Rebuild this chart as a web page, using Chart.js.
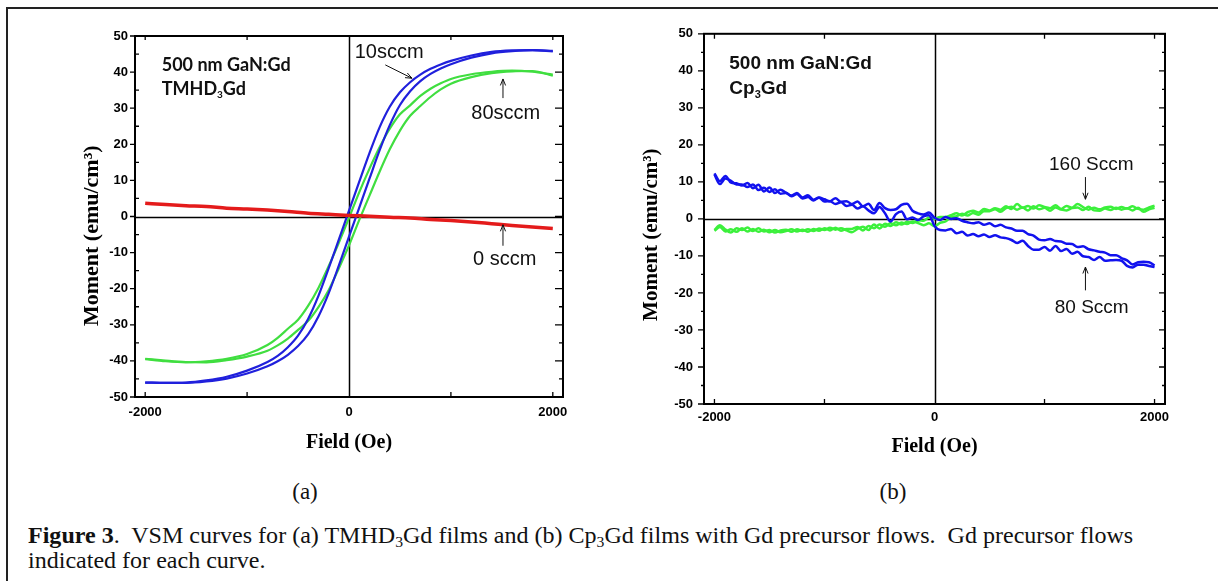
<!DOCTYPE html>
<html><head><meta charset="utf-8">
<script src="https://cdn.jsdelivr.net/npm/chart.js@4.4.1/dist/chart.umd.min.js"></script>
<style>
html,body{margin:0;padding:0;background:#fff;width:1218px;height:581px;overflow:hidden;position:relative;font-family:"Liberation Serif",serif;color:#111;}
#border{position:absolute;left:6px;top:7px;width:1300px;height:700px;border-left:2px solid #222;border-top:2px solid #222;}
#ca{position:absolute;left:40px;top:20px;}
#cb{position:absolute;left:610px;top:15px;}
.lab{position:absolute;font-size:23px;transform:translate(-50%,-50%);white-space:nowrap;}
#cap{position:absolute;left:28px;top:523px;font-size:23px;line-height:25px;white-space:nowrap;transform:scaleX(1.045);transform-origin:0 0;}
#cap sub{font-size:15px;vertical-align:-4px;line-height:0;}
</style>
</head><body>
<div id="border"></div>
<canvas id="ca" width="540" height="450"></canvas>
<canvas id="cb" width="590" height="455"></canvas>
<div class="lab" style="left:305px;top:492px;">(a)</div>
<div class="lab" style="left:893px;top:492px;">(b)</div>
<div id="cap"><b>Figure 3</b>.&nbsp; VSM curves for (a) TMHD<sub>3</sub>Gd films and (b) Cp<sub>3</sub>Gd films with Gd precursor flows.&nbsp; Gd precursor flows<br>indicated for each curve.</div>
<script>
// ---------- data: panel (a) ----------
const fieldDesc = [2000,1800,1600,1400,1200,1000,900,800,700,600,500,400,300,200,100,0,-100,-200,-300,-400,-500,-600,-700,-800,-1000,-1200,-1400,-1600,-1800,-2000];
const fieldAsc  = [-2000,-1800,-1600,-1400,-1200,-1000,-800,-700,-600,-500,-400,-300,-200,-100,0,100,200,300,400,500,600,700,800,900,1000,1200,1400,1600,1800,2000];
const blue10Desc = [45.9,46.1,46.0,45.6,44.6,43.1,42.1,40.9,39.3,37.2,34.4,30.4,24.7,17.5,9.6,1.6,-6.4,-14.4,-22.0,-28.3,-33.0,-36.2,-38.6,-40.3,-42.7,-44.4,-45.4,-46.0,-46.1,-46.0];
const blue10Asc  = [-46.0,-46.1,-46.1,-45.7,-44.9,-43.5,-41.5,-40.1,-38.3,-35.9,-32.6,-27.7,-21.3,-13.6,-5.6,2.4,10.4,18.3,25.3,30.9,34.7,37.5,39.5,41.0,42.2,44.0,45.2,45.8,46.1,45.7];
const green80Desc = [39.3,40.1,40.4,40.1,39.4,38.1,36.9,35.4,33.4,30.8,28.3,24.3,19.2,13.2,6.7,-0.4,-7.3,-13.8,-19.8,-24.7,-28.6,-31.1,-33.6,-35.6,-38.1,-39.4,-40.1,-40.4,-40.1,-39.5];
const green80Asc  = [-39.4,-39.9,-40.3,-40.4,-39.8,-38.8,-37.2,-35.7,-33.8,-31.4,-28.9,-25.1,-20.4,-14.4,-8.0,-1.0,5.7,12.4,18.6,23.8,27.9,30.6,33.1,35.2,36.8,38.6,39.7,40.2,40.3,39.0];
const fieldRed = [-2000,-1800,-1600,-1400,-1200,-1000,-800,-600,-400,-200,0,200,400,600,800,1000,1200,1400,1600,1800,2000];
const red0     = [3.7,3.3,3.0,2.8,2.3,2.1,1.8,1.4,0.9,0.6,0.3,0.1,-0.2,-0.4,-0.8,-1.1,-1.5,-2.0,-2.5,-2.9,-3.3];

// ---------- data: panel (b) ----------
const fieldB = [-2000,-1950,-1900,-1850,-1800,-1750,-1700,-1650,-1600,-1550,-1500,-1450,-1400,-1350,-1300,-1250,-1200,-1150,-1100,-1050,-1000,
  -950,-900,-850,-800,-750,-700,-650,-600,-550,-500,-450,-400,-350,-300,-250,-200,-150,-100,-50,0,
  50,100,150,200,250,300,350,400,450,500,550,600,650,700,750,800,850,900,950,1000,
  1050,1100,1150,1200,1250,1300,1350,1400,1450,1500,1550,1600,1650,1700,1750,1800,1850,1900,1950,2000];
const blue80a = [12.3,10.2,11.6,9.8,9.6,9.0,9.7,8.3,9.2,7.4,8.5,7.0,7.9,7.1,6.3,7.0,5.8,6.4,5.2,5.8,5.3,
  4.8,5.6,4.6,4.8,4.0,4.7,3.4,4.1,2.4,4.3,2.9,2.4,2.6,3.8,4.1,2.2,1.5,1.2,1.7,0.3,
  -0.3,0.5,0.0,0.2,-0.5,-0.9,-1.2,-0.9,-1.6,-1.2,-2.0,-1.6,-2.3,-2.6,-3.2,-3.2,-4.1,-4.5,-5.6,-5.8,
  -5.4,-6.0,-6.1,-6.7,-6.8,-7.6,-7.4,-8.2,-8.5,-8.9,-9.1,-9.8,-9.8,-10.6,-11.2,-12.3,-11.7,-11.6,-11.7,-12.6];
const blue80b = [12.0,9.4,10.9,10.3,9.3,9.3,8.6,9.3,7.8,8.4,7.3,8.0,6.8,7.0,6.1,6.7,5.5,5.9,5.0,5.7,4.7,
  4.8,4.0,4.5,3.5,3.8,2.8,3.4,2.3,1.5,3.2,1.5,-0.7,1.3,2.0,-0.1,0.4,-0.3,0.7,1.0,-1.9,
  -3.0,-3.1,-2.7,-3.9,-3.5,-4.5,-4.1,-4.7,-4.2,-4.9,-4.4,-5.0,-5.2,-5.7,-6.5,-5.9,-7.3,-8.3,-8.3,-7.6,
  -8.6,-7.3,-8.7,-8.1,-9.4,-8.9,-10.1,-10.3,-11.1,-10.3,-11.3,-11.2,-11.1,-11.3,-12.7,-13.1,-12.4,-12.4,-12.7,-13.0];
const green160a = [-3.0,-1.7,-2.9,-3.7,-2.5,-3.0,-2.3,-3.3,-2.5,-3.4,-3.0,-3.7,-3.1,-2.9,-3.5,-2.8,-3.3,-2.8,-3.3,-2.6,-3.0,
  -2.4,-2.9,-2.5,-3.1,-3.6,-2.7,-2.1,-3.0,-1.5,-2.6,-1.3,-1.9,-0.9,-1.5,-0.8,-1.1,-0.4,-0.5,0.4,0.0,
  0.5,0.5,1.0,1.5,0.9,1.8,2.2,1.7,2.7,2.3,2.9,2.5,3.4,2.7,4.0,3.0,3.5,2.8,3.7,3.2,
  2.9,3.7,2.7,3.5,3.0,4.0,3.2,2.5,3.0,2.6,3.1,3.3,2.7,3.2,2.8,3.4,2.7,2.5,3.1,3.6];
const green160b = [-3.2,-2.2,-3.4,-2.8,-3.5,-2.5,-3.4,-2.7,-3.5,-2.9,-3.6,-3.0,-3.6,-3.3,-2.8,-3.4,-2.9,-3.5,-2.7,-3.2,-2.5,
  -3.1,-2.4,-3.2,-2.7,-2.7,-2.2,-3.1,-1.9,-2.5,-1.5,-2.1,-1.2,-1.7,-1.0,-1.4,-0.7,-1.1,-1.7,-1.2,-2.0,
  -1.1,-0.7,0.5,0.7,1.4,0.9,1.6,1.1,2.1,2.1,2.6,1.9,2.9,3.3,2.5,3.1,2.3,3.4,2.6,3.0,
  2.2,3.1,2.5,2.3,2.9,3.1,2.4,3.3,2.3,2.2,2.8,2.4,3.0,2.5,2.9,2.3,3.0,1.9,2.6,3.0];

// ---------- tick labels ----------
const yTickValues = [-50,-40,-30,-20,-10,0,10,20,30,40,50];
const yMinorValues = [-45,-35,-25,-15,-5,5,15,25,35,45];
const xTickValues = [-2000,0,2000];
const xMarkValues = [-2000,-1000,1000,2000];
const yTitle = 'Moment (emu/cm\u00B3)';
const xTitle = 'Field (Oe)';

function pts(xs, ys){ return xs.map((x,i)=>({x:x, y:ys[i]})); }

const framePlugin = {
  id:'frame',
  beforeDatasetsDraw(chart, args, o){
    const {ctx, chartArea:a, scales:{x,y}} = chart;
    ctx.save(); ctx.strokeStyle='#000'; ctx.lineWidth=o.zeroW;
    const x0 = Math.round(x.getPixelForValue(0))+0.5, y0 = Math.round(y.getPixelForValue(0))+0.5;
    ctx.beginPath(); ctx.moveTo(x0,a.top); ctx.lineTo(x0,a.bottom);
    ctx.moveTo(a.left,y0); ctx.lineTo(a.right,y0); ctx.stroke(); ctx.restore();
  },
  afterDatasetsDraw(chart, args, o){
    const {ctx, chartArea:a, scales:{x,y}} = chart;
    ctx.save(); ctx.strokeStyle='#000';
    ctx.lineWidth=o.frameW;
    ctx.strokeRect(a.left, a.top, a.right-a.left, a.bottom-a.top);
    ctx.lineWidth=1.3;
    const t=o.ticks;
    ctx.beginPath();
    yTickValues.forEach(v=>{ const p=y.getPixelForValue(v);
      ctx.moveTo(a.left,p); ctx.lineTo(a.left+t.left[0],p);
      ctx.moveTo(a.right,p); ctx.lineTo(a.right-t.right[0],p); });
    yMinorValues.forEach(v=>{ const p=y.getPixelForValue(v);
      ctx.moveTo(a.left,p); ctx.lineTo(a.left+t.left[1],p);
      ctx.moveTo(a.right,p); ctx.lineTo(a.right-t.right[1],p); });
    xMarkValues.forEach(v=>{ const p=x.getPixelForValue(v);
      ctx.moveTo(p,a.top); ctx.lineTo(p,a.top+t.top);
      ctx.moveTo(p,a.bottom); ctx.lineTo(p,a.bottom-t.bottom); });
    ctx.stroke();
    ctx.fillStyle='#111'; ctx.textBaseline='middle'; ctx.textAlign='left';
    (o.notes||[]).forEach(n=>{
      let px=x.getPixelForValue(n.x); const py=y.getPixelForValue(n.y);
      n.parts.forEach(pt=>{ ctx.font=pt[1]; ctx.fillText(pt[0], px, py+(pt[2]||0)); px+=ctx.measureText(pt[0]).width; });
    });
    ctx.strokeStyle='#111'; ctx.lineWidth=1;
    (o.arrows||[]).forEach(ar=>{
      const x1=x.getPixelForValue(ar[0]), y1=y.getPixelForValue(ar[1]);
      const x2=x.getPixelForValue(ar[2]), y2=y.getPixelForValue(ar[3]);
      const ang=Math.atan2(y2-y1,x2-x1), h=7, s=0.38;
      ctx.beginPath(); ctx.moveTo(x1,y1); ctx.lineTo(x2,y2);
      ctx.moveTo(x2-h*Math.cos(ang-s), y2-h*Math.sin(ang-s)); ctx.lineTo(x2,y2);
      ctx.lineTo(x2-h*Math.cos(ang+s), y2-h*Math.sin(ang+s)); ctx.stroke();
    });
    ctx.restore();
  }
};

function scales(o){
  const tickFont = {family:'Liberation Sans', weight:'bold', size:13};
  return {
    x:{type:'linear', min:o.xmin, max:o.xmax,
      afterBuildTicks: s=>{ s.ticks = xTickValues.map(v=>({value:v})); },
      ticks:{font:tickFont, color:'#000', padding:o.xpad, maxRotation:0, autoSkip:false, callback:v=>String(v)},
      grid:{display:false, drawTicks:false}, border:{display:false},
      title:{display:true, text:xTitle, color:'#000', font:{family:'Liberation Serif', weight:'bold', size:o.xts}, padding:{top:0,bottom:o.xtpad}},
      afterFit: s=>{ s.height=o.xh; }
    },
    y:{type:'linear', min:-50, max:50,
      afterBuildTicks: s=>{ s.ticks = yTickValues.map(v=>({value:v})); },
      ticks:{font:tickFont, color:'#000', padding:o.ypad, autoSkip:false, callback:v=>String(v)},
      grid:{display:false, drawTicks:false}, border:{display:false},
      title:{display:true, text:yTitle + o.ytail, color:'#000', font:{family:'Liberation Serif', weight:'bold', size:o.yts}, padding:{top:o.ytpad,bottom:0}},
      afterFit: s=>{ s.width=o.yw; }
    }
  };
}

function ds(xs, ys, color, w, tension){
  return {data:pts(xs,ys), showLine:true, borderColor:color, borderWidth:w, pointRadius:0, fill:false, tension:tension, cubicInterpolationMode:'monotone'};
}

const BLUE_A='#2020dc', GREEN_A='#40de40', RED_A='#e41b1b';
const BLUE_B='#1212ee', GREEN_B='#3cf03c';

new Chart(document.getElementById('ca'), {
  type:'scatter',
  data:{datasets:[
    ds(fieldRed, red0, RED_A, 3.5, 0.2),
    ds(fieldDesc, blue10Desc, BLUE_A, 2.2, 0.4),
    ds(fieldAsc, blue10Asc, BLUE_A, 2.2, 0.4),
    ds(fieldDesc, green80Desc, GREEN_A, 2.2, 0.4),
    ds(fieldAsc, green80Asc, GREEN_A, 2.2, 0.4)
  ]},
  options:{responsive:false, animation:false, devicePixelRatio:1,
    layout:{padding:{left:0, top:16, right:17, bottom:0}},
    plugins:{legend:{display:false}, tooltip:{enabled:false},
      frame:{zeroW:1.5, frameW:2, ticks:{left:[-5,4], right:[8,4], top:4, bottom:5},
        notes:[
          {x:-1838, y:42.0, parts:[['500 nm GaN:Gd','bold 18px Lato']]},
          {x:-1838, y:35.3, parts:[['TMHD','bold 18px Lato'],['3','bold 10px Lato',6],['Gd','bold 18px Lato']]},
          {x:56, y:45.3, parts:[['10sccm','20px "Liberation Sans"']]},
          {x:1200, y:28.6, parts:[['80sccm','20px "Liberation Sans"']]},
          {x:1218, y:-11.8, parts:[['0 sccm','20px "Liberation Sans"']]}
        ],
        arrows:[[356,42.0,618,38.3],[1511,32.8,1511,38.1],[1511,-8.1,1511,-2.3]]
      }},
    scales:scales({xmin:-2100, xmax:2100, xpad:8, xh:73, yw:95, ypad:7, xts:20, yts:22, xtpad:15, ytpad:39, ytail:'       '})
  },
  plugins:[framePlugin]
});

new Chart(document.getElementById('cb'), {
  type:'scatter',
  data:{datasets:[
    ds(fieldB, blue80a, BLUE_B, 2.5, 0),
    ds(fieldB, blue80b, BLUE_B, 2.5, 0),
    ds(fieldB, green160a, GREEN_B, 2.5, 0),
    ds(fieldB, green160b, GREEN_B, 2.5, 0)
  ]},
  options:{responsive:false, animation:false, devicePixelRatio:1,
    layout:{padding:{left:0, top:18, right:35, bottom:0}},
    plugins:{legend:{display:false}, tooltip:{enabled:false},
      frame:{zeroW:1.5, frameW:2, ticks:{left:[-6,-3], right:[6,3], top:5, bottom:5},
        notes:[
          {x:-1865, y:41.8, parts:[['500 nm GaN:Gd','bold 19px "Liberation Sans"']]},
          {x:-1865, y:35.1, parts:[['Cp','bold 19px "Liberation Sans"'],['3','bold 11px "Liberation Sans"',6],['Gd','bold 19px "Liberation Sans"']]},
          {x:1041, y:14.6, parts:[['160 Sccm','19px "Liberation Sans"']]},
          {x:1093, y:-24.0, parts:[['80 Sccm','19px "Liberation Sans"']]}
        ],
        arrows:[[1372,11.3,1372,5.3],[1372,-19.3,1372,-13.0]]
      }},
    scales:scales({xmin:-2095, xmax:2095, xpad:6, xh:66, yw:94, ypad:11, xts:20, yts:21, xtpad:11, ytpad:29, ytail:'      '})
  },
  plugins:[framePlugin]
});
</script>
</body></html>
